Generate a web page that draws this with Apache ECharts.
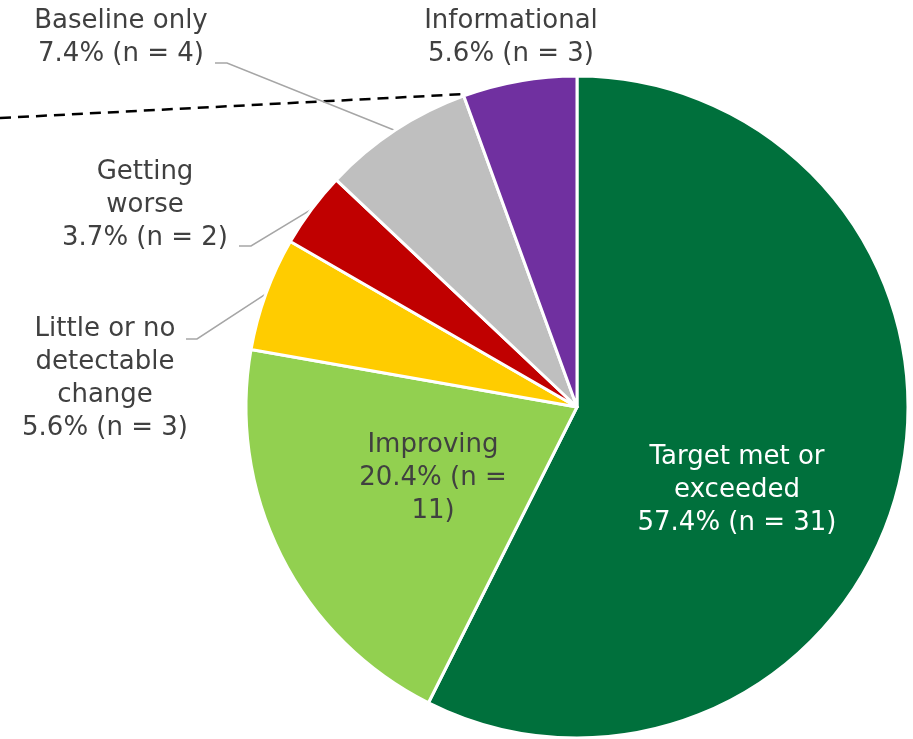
<!DOCTYPE html>
<html>
<head>
<meta charset="utf-8">
<script src="https://cdn.jsdelivr.net/npm/echarts@6/dist/echarts.min.js"></script>
<style>
  html, body { margin: 0; padding: 0; background: #fff; }
  #chart { width: 913px; height: 739px; }
</style>
</head>
<body>
<div id="chart"></div>
<script>
// data
const categories = ["Target met or\nexceeded", "Improving", "Little or no\ndetectable\nchange", "Getting\nworse", "Baseline only", "Informational"];
const counts = [31, 11, 3, 2, 4, 3];
const colors = ["#00703C", "#92D050", "#FFCC00", "#C00000", "#BFBFBF", "#7030A0"];

// label placement (label centre, and the elbow/end of each leader line)
const labelPos = [[737, 490], [433, 478], [105, 379], [145, 205], [121, 38], [511, 38]];
const leaderEnds = [null, null, [[197, 339], [186, 339]], [[251, 246], [239, 246]], [[227, 63], [215, 63]], null];

const center = [577, 407];
const radius = 331;
const total = counts.reduce((a, b) => a + b, 0);

// anchor of each leader line: middle of the slice on its outer edge
let acc = 0;
const anchors = counts.map(v => {
  const mid = (acc + v / 2) / total * Math.PI * 2;
  acc += v;
  return [center[0] + radius * Math.sin(mid), center[1] - radius * Math.cos(mid)];
});

const chart = echarts.init(document.getElementById("chart"));
chart.setOption({
  animation: false,
  graphic: [{
    type: "line",
    z: 0,
    shape: { x1: 0, y1: 118, x2: 466, y2: 94 },
    style: { stroke: "#000", lineWidth: 2.5, lineDash: [11, 7] }
  }],
  series: [{
    type: "pie",
    z: 2,
    center: center,
    radius: radius,
    startAngle: 90,
    clockwise: true,
    itemStyle: { borderColor: "#fff", borderWidth: 3 },
    label: {
      show: true,
      position: "outside",
      fontFamily: "DejaVu Sans",
      fontSize: 26,
      lineHeight: 33,
      color: "#404040",
      align: "center",
      formatter: p => {
        const pct = (p.value / total * 100).toFixed(1) + "%";
        if (p.dataIndex === 1) return p.name + "\n" + pct + " (n =\n" + p.value + ")";
        return p.name + "\n" + pct + " (n = " + p.value + ")";
      }
    },
    labelLine: { show: true, lineStyle: { color: "#A6A6A6", width: 1.5 } },
    labelLayout: p => {
      const i = p.dataIndex;
      const out = { x: labelPos[i][0], y: labelPos[i][1], align: "center", verticalAlign: "middle" };
      if (leaderEnds[i]) out.labelLinePoints = [anchors[i], leaderEnds[i][0], leaderEnds[i][1]];
      return out;
    },
    data: categories.map((name, i) => ({
      name: name,
      value: counts[i],
      itemStyle: { color: colors[i] },
      label: i === 0 ? { position: "inside", color: "#fff" } : (i === 1 ? { position: "inside" } : {}),
      labelLine: { show: !!leaderEnds[i] }
    }))
  }]
});
</script>
</body>
</html>
